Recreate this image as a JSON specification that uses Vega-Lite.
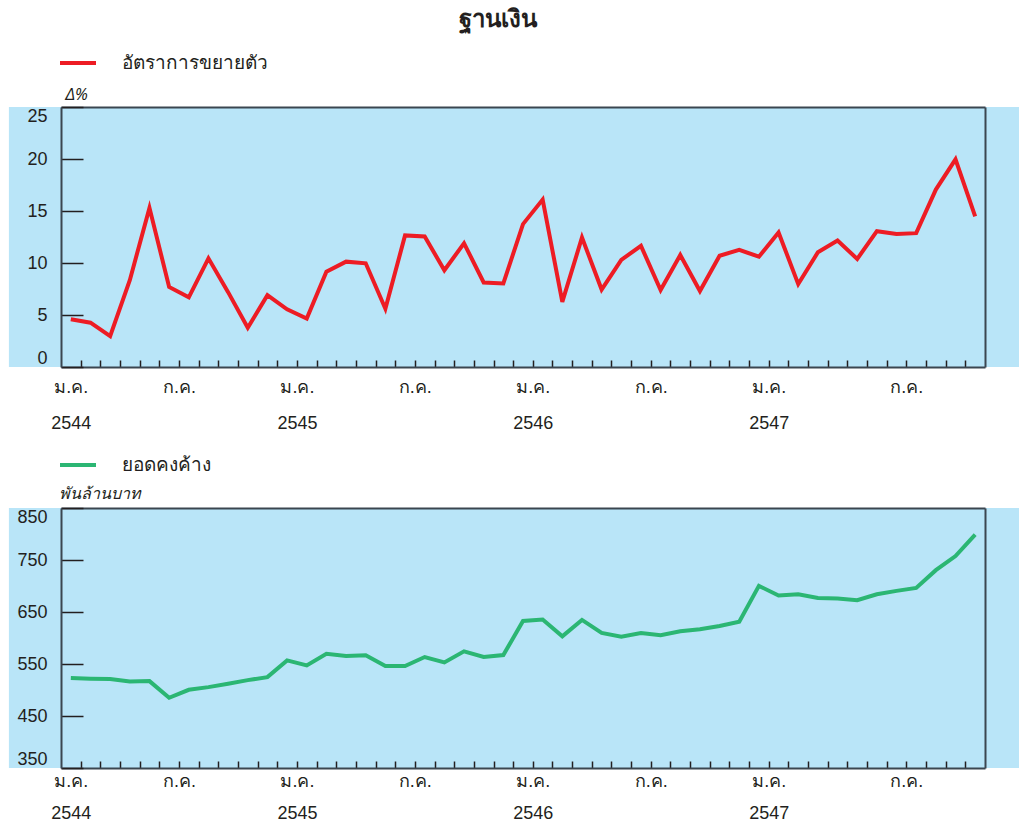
{
  "$schema": "https://vega.github.io/schema/vega-lite/v6.json",
  "autosize": {"type": "pad"},
  "padding": {"left": 8, "top": 8, "right": 0, "bottom": 2},
  "background": "white",
  "title": {
    "text": "ฐานเงิน",
    "fontSize": 24,
    "fontWeight": "bold",
    "color": "#231F20",
    "anchor": "middle",
    "dx": -17,
    "offset": 11
  },
  "config": {
    "font": "Noto Sans",
    "view": {"stroke": null},
    "axis": {
      "labelFont": "Liberation Sans",
      "labelColor": "#231F20",
      "tickColor": "#231F20",
      "domainColor": "#3B4650",
      "titleColor": "#231F20",
      "titleFont": "Noto Sans"
    },
    "legend": {"labelFont": "Noto Sans", "labelColor": "#231F20"}
  },
  "resolve": {"scale": {"color": "independent"}, "legend": {"color": "independent"}},
  "datasets": {
    "growth": [
      {"i": 0, "v": 4.6}, {"i": 1, "v": 4.26}, {"i": 2, "v": 2.97}, {"i": 3, "v": 8.35},
      {"i": 4, "v": 15.3}, {"i": 5, "v": 7.7}, {"i": 6, "v": 6.7}, {"i": 7, "v": 10.45},
      {"i": 8, "v": 7.2}, {"i": 9, "v": 3.77}, {"i": 10, "v": 6.9}, {"i": 11, "v": 5.55},
      {"i": 12, "v": 4.65}, {"i": 13, "v": 9.16}, {"i": 14, "v": 10.13}, {"i": 15, "v": 9.97},
      {"i": 16, "v": 5.6}, {"i": 17, "v": 12.65}, {"i": 18, "v": 12.55}, {"i": 19, "v": 9.3},
      {"i": 20, "v": 11.9}, {"i": 21, "v": 8.13}, {"i": 22, "v": 8.03}, {"i": 23, "v": 13.74},
      {"i": 24, "v": 16.1}, {"i": 25, "v": 6.26}, {"i": 26, "v": 12.45}, {"i": 27, "v": 7.45},
      {"i": 28, "v": 10.3}, {"i": 29, "v": 11.65}, {"i": 30, "v": 7.4}, {"i": 31, "v": 10.77},
      {"i": 32, "v": 7.3}, {"i": 33, "v": 10.7}, {"i": 34, "v": 11.26}, {"i": 35, "v": 10.6},
      {"i": 36, "v": 12.94}, {"i": 37, "v": 7.97}, {"i": 38, "v": 11.03}, {"i": 39, "v": 12.16},
      {"i": 40, "v": 10.39}, {"i": 41, "v": 13.06}, {"i": 42, "v": 12.8}, {"i": 43, "v": 12.87},
      {"i": 44, "v": 17.06}, {"i": 45, "v": 19.97}, {"i": 46, "v": 14.48}
    ],
    "level": [
      {"i": 0, "v": 522.9}, {"i": 1, "v": 521.6}, {"i": 2, "v": 521}, {"i": 3, "v": 516.5},
      {"i": 4, "v": 517.1}, {"i": 5, "v": 485}, {"i": 6, "v": 500.4}, {"i": 7, "v": 505.5},
      {"i": 8, "v": 512}, {"i": 9, "v": 519}, {"i": 10, "v": 524.8}, {"i": 11, "v": 557},
      {"i": 12, "v": 547.3}, {"i": 13, "v": 569.8}, {"i": 14, "v": 565.3}, {"i": 15, "v": 566.6},
      {"i": 16, "v": 546}, {"i": 17, "v": 546}, {"i": 18, "v": 563.4}, {"i": 19, "v": 553},
      {"i": 20, "v": 574.3}, {"i": 21, "v": 563.4}, {"i": 22, "v": 567.2}, {"i": 23, "v": 632.8},
      {"i": 24, "v": 635.4}, {"i": 25, "v": 603.2}, {"i": 26, "v": 634.7}, {"i": 27, "v": 609.7},
      {"i": 28, "v": 602.6}, {"i": 29, "v": 609.7}, {"i": 30, "v": 605.2}, {"i": 31, "v": 612.9},
      {"i": 32, "v": 616.7}, {"i": 33, "v": 623.1}, {"i": 34, "v": 631.5}, {"i": 35, "v": 700.3},
      {"i": 36, "v": 681.6}, {"i": 37, "v": 684.2}, {"i": 38, "v": 677.1}, {"i": 39, "v": 675.9},
      {"i": 40, "v": 672.6}, {"i": 41, "v": 684.2}, {"i": 42, "v": 690.6}, {"i": 43, "v": 696.4},
      {"i": 44, "v": 730.5}, {"i": 45, "v": 757.5}, {"i": 46, "v": 798.6}
    ]
  },
  "spacing": 13,
  "vconcat": [
    {
      "width": 924,
      "height": 260,
      "layer": [
        {
          "data": {"values": [{}]},
          "mark": {"type": "rect", "fill": "#B9E5F8", "clip": false},
          "encoding": {
            "x": {
              "datum": -3.15,
              "type": "quantitative",
              "scale": {"domain": [-0.5, 46.5], "nice": false, "zero": false},
              "axis": {
                "orient": "bottom",
                "zindex": 1,
                "title": null,
                "grid": false,
                "values": [0, 0.5, 1.5, 2.5, 3.5, 4.5, 5.5, 6.5, 7.5, 8.5, 9.5, 10.5, 11.5, 12.5, 13.5, 14.5, 15.5, 16.5, 17.5, 18.5, 19.5, 20.5, 21.5, 22.5, 23.5, 24.5, 25.5, 26.5, 27.5, 28.5, 29.5, 30.5, 31.5, 32.5, 33.5, 34.5, 35.5, 36.5, 37.5, 38.5, 39.5, 40.5, 41.5, 42.5, 43.5, 44.5, 45.5],
                "labelExpr": "datum.value == 0 ? ['ม.ค.', '2544'] : datum.value == 11.5 ? ['ม.ค.', '2545'] : datum.value == 23.5 ? ['ม.ค.', '2546'] : datum.value == 35.5 ? ['ม.ค.', '2547'] : (datum.value == 5.5 || datum.value == 17.5 || datum.value == 29.5 || datum.value == 42.5) ? 'ก.ค.' : ''",
                "labelOverlap": false,
                "labelFlush": false,
                "labelBound": false,
                "labelFontSize": 18,
                "labelLineHeight": 36,
                "labelPadding": 18,
                "tickSize": -7,
                "tickWidth": 1.5,
                "tickOpacity": {"condition": {"test": "datum.value == 0", "value": 0}, "value": 1},
                "domainWidth": 2
              }
            },
            "x2": {"datum": 48.3},
            "y": {
              "datum": 0,
              "type": "quantitative",
              "scale": {"domain": [0, 25], "nice": false},
              "axis": {
                "orient": "left",
                "zindex": 1,
                "grid": false,
                "values": [0, 5, 10, 15, 20, 25],
                "labelFontSize": 18,
                "labelFlush": true,
                "labelFlushOffset": 0,
                "labelPadding": 36,
                "tickSize": -22,
                "tickWidth": 1.5,
                "domainWidth": 2,
                "title": "Δ%",
                "titleAngle": 0,
                "titleAlign": "left",
                "titleBaseline": "middle",
                "titleX": 4,
                "titleY": -13,
                "titleFontSize": 16,
                "titleFontStyle": "italic",
                "titleFontWeight": "normal"
              }
            },
            "y2": {"datum": 25}
          }
        },
        {
          "data": {"name": "growth"},
          "mark": {"type": "line", "strokeWidth": 4},
          "encoding": {
            "x": {
              "field": "i",
              "type": "quantitative",
              "axis": {"orient": "top", "zindex": 1, "title": null, "labels": false, "ticks": false, "grid": false, "domainWidth": 2}
            },
            "y": {
              "field": "v",
              "type": "quantitative",
              "axis": {"orient": "right", "zindex": 1, "title": null, "labels": false, "ticks": false, "grid": false, "domainWidth": 2}
            },
            "color": {
              "datum": "อัตราการขยายตัว",
              "type": "nominal",
              "scale": {"range": ["#ED1C24"]},
              "legend": {
                "orient": "none",
                "legendX": -3,
                "legendY": -64,
                "title": null,
                "padding": 0,
                "symbolType": "stroke",
                "symbolSize": 1296,
                "symbolStrokeWidth": 4,
                "labelFontSize": 19,
                "labelOffset": 24
              }
            }
          }
        }
      ],
      "resolve": {"axis": {"x": "independent", "y": "independent"}}
    },
    {
      "width": 924,
      "height": 260,
      "layer": [
        {
          "data": {"values": [{}]},
          "mark": {"type": "rect", "fill": "#B9E5F8", "clip": false},
          "encoding": {
            "x": {
              "datum": -3.15,
              "type": "quantitative",
              "scale": {"domain": [-0.5, 46.5], "nice": false, "zero": false},
              "axis": {
                "orient": "bottom",
                "zindex": 1,
                "title": null,
                "grid": false,
                "values": [0, 0.5, 1.5, 2.5, 3.5, 4.5, 5.5, 6.5, 7.5, 8.5, 9.5, 10.5, 11.5, 12.5, 13.5, 14.5, 15.5, 16.5, 17.5, 18.5, 19.5, 20.5, 21.5, 22.5, 23.5, 24.5, 25.5, 26.5, 27.5, 28.5, 29.5, 30.5, 31.5, 32.5, 33.5, 34.5, 35.5, 36.5, 37.5, 38.5, 39.5, 40.5, 41.5, 42.5, 43.5, 44.5, 45.5],
                "labelExpr": "datum.value == 0 ? ['ม.ค.', '2544'] : datum.value == 11.5 ? ['ม.ค.', '2545'] : datum.value == 23.5 ? ['ม.ค.', '2546'] : datum.value == 35.5 ? ['ม.ค.', '2547'] : (datum.value == 5.5 || datum.value == 17.5 || datum.value == 29.5 || datum.value == 42.5) ? 'ก.ค.' : ''",
                "labelOverlap": false,
                "labelFlush": false,
                "labelBound": false,
                "labelFontSize": 18,
                "labelLineHeight": 32,
                "labelPadding": 11,
                "tickSize": -7,
                "tickWidth": 1.5,
                "tickOpacity": {"condition": {"test": "datum.value == 0", "value": 0}, "value": 1},
                "domainWidth": 2
              }
            },
            "x2": {"datum": 48.3},
            "y": {
              "datum": 350,
              "type": "quantitative",
              "scale": {"domain": [350, 850], "nice": false, "zero": false},
              "axis": {
                "orient": "left",
                "zindex": 1,
                "grid": false,
                "values": [350, 450, 550, 650, 750, 850],
                "labelFontSize": 18,
                "labelFlush": true,
                "labelFlushOffset": 0,
                "labelPadding": 36,
                "tickSize": -22,
                "tickWidth": 1.5,
                "domainWidth": 2,
                "title": "พันล้านบาท",
                "titleAngle": 0,
                "titleAlign": "left",
                "titleBaseline": "middle",
                "titleX": -3,
                "titleY": -15,
                "titleFontSize": 16,
                "titleFontStyle": "italic",
                "titleFontWeight": "normal"
              }
            },
            "y2": {"datum": 850}
          }
        },
        {
          "data": {"name": "level"},
          "mark": {"type": "line", "strokeWidth": 4},
          "encoding": {
            "x": {
              "field": "i",
              "type": "quantitative",
              "axis": {"orient": "top", "zindex": 1, "title": null, "labels": false, "ticks": false, "grid": false, "domainWidth": 2}
            },
            "y": {
              "field": "v",
              "type": "quantitative",
              "axis": {"orient": "right", "zindex": 1, "title": null, "labels": false, "ticks": false, "grid": false, "domainWidth": 2}
            },
            "color": {
              "datum": "ยอดคงค้าง",
              "type": "nominal",
              "scale": {"range": ["#2BB673"]},
              "legend": {
                "orient": "none",
                "legendX": -3,
                "legendY": -63,
                "title": null,
                "padding": 0,
                "symbolType": "stroke",
                "symbolSize": 1296,
                "symbolStrokeWidth": 4,
                "labelFontSize": 19,
                "labelOffset": 24
              }
            }
          }
        }
      ],
      "resolve": {"axis": {"x": "independent", "y": "independent"}}
    }
  ]
}
